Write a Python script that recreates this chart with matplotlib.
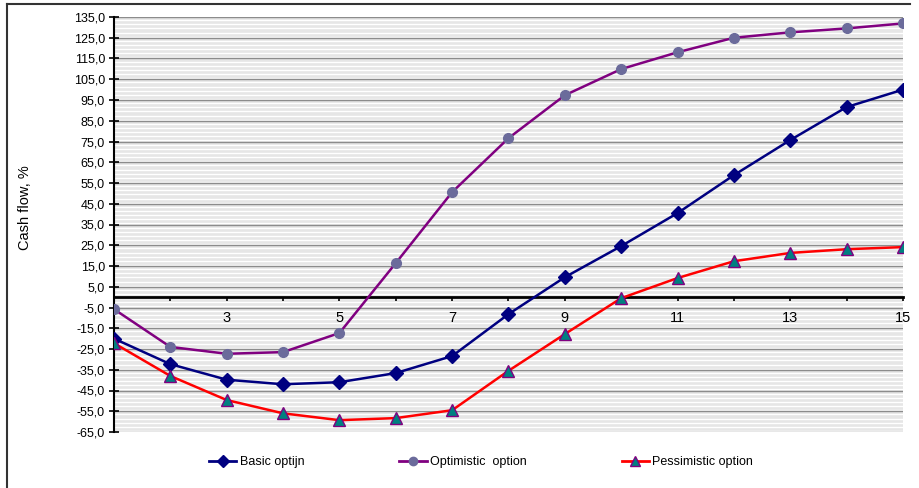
import matplotlib.pyplot as plt
import numpy as np
from matplotlib.lines import Line2D

periods = list(range(1, 16))
basic = [-20, -32.3, -39.8, -42, -41, -36.6, -28.4, -8.2, 9.6, 24.6, 40.5, 58.8, 75.7, 91.6, 100]
optimistic = [-5.8, -24, -27.3, -26.5, -17.3, 16.4, 50.6, 76.6, 97.3, 109.9, 118, 125, 127.6, 129.5, 131.9]
pessimistic = [-22.2, -38, -49.6, -56, -59.3, -58.3, -54.5, -35.5, -17.8, -0.5, 9.2, 17.3, 21.3, 23.1, 24.1]
series_names = ['Basic optijn', 'Optimistic  option', 'Pessimistic option']
y_ticks = np.arange(-65, 136, 10)
x_labels = [3, 5, 7, 9, 11, 13, 15]

plt.rcParams['font.family'] = ['Liberation Sans', 'DejaVu Sans']

fig = plt.figure(figsize=(9.2, 4.88), dpi=100)
ax = fig.add_axes([114/920, (488-432)/488, (903-114)/920, (432-17)/488])

# striped background like the excel pattern fill
ax.set_facecolor('#e6e6e6')
for yv in np.arange(-65, 135, 2.0):
    ax.axhline(yv + 0.5, color='white', lw=1.0, zorder=0)
for yv in y_ticks:
    ax.axhline(yv, color='#8c8c8c', lw=1.0, zorder=1)

ax.plot(periods, optimistic, color='#800080', lw=1.8, marker='o', ms=7,
        mfc='#6b6b9b', mec='#6b6b9b', zorder=3)
ax.plot(periods, basic, color='#000080', lw=1.8, marker='D', ms=7,
        mfc='#000080', mec='#000080', zorder=4)
ax.plot(periods, pessimistic, color='#ff0000', lw=1.8, marker='^', ms=8,
        mfc='#008080', mec='#800080', mew=1.0, zorder=5)

ax.set_xlim(1, 15)
ax.set_ylim(-65, 135)
ax.set_yticks(y_ticks)
ax.set_yticklabels([f'{v:.1f}'.replace('.', ',') for v in y_ticks])
ax.tick_params(axis='y', direction='inout', length=7, width=1.2, pad=3, labelsize=9)

ax.spines['left'].set_position(('data', 1))
ax.spines['bottom'].set_position(('data', 0))
ax.spines['left'].set_linewidth(1.5)
ax.spines['bottom'].set_linewidth(2)
ax.spines['right'].set_visible(False)
ax.spines['top'].set_visible(False)

ax.set_xticks(periods)
ax.set_xticklabels([str(p) if p in x_labels else '' for p in periods])
ax.tick_params(axis='x', direction='out', length=3, width=1.2, pad=7, labelsize=10.5)

fig.text(25/920, 1 - 208/488, 'Cash flow, %', rotation=90, ha='center', va='center', fontsize=10.5)

handles = [
    Line2D([], [], color='#000080', lw=2, marker='D', ms=6, mfc='#000080', mec='#000080'),
    Line2D([], [], color='#800080', lw=2, marker='o', ms=6, mfc='#6b6b9b', mec='#6b6b9b'),
    Line2D([], [], color='#ff0000', lw=2, marker='^', ms=7, mfc='#008080', mec='#800080'),
]
fig.legend(handles, series_names, loc='center', bbox_to_anchor=(481/920, 1 - 462/488), ncol=3,
           frameon=False, fontsize=9, handlelength=2.2, handletextpad=0.25, columnspacing=7.6)

# outer chart frame (only left and top edges show)
fig.add_artist(Line2D([7/920, 7/920], [0, 1 - 4/488], color='#333333', lw=1.5))
fig.add_artist(Line2D([7/920, 910/920], [1 - 4/488, 1 - 4/488], color='#333333', lw=1.5))

fig.savefig('out.png', dpi=100)
